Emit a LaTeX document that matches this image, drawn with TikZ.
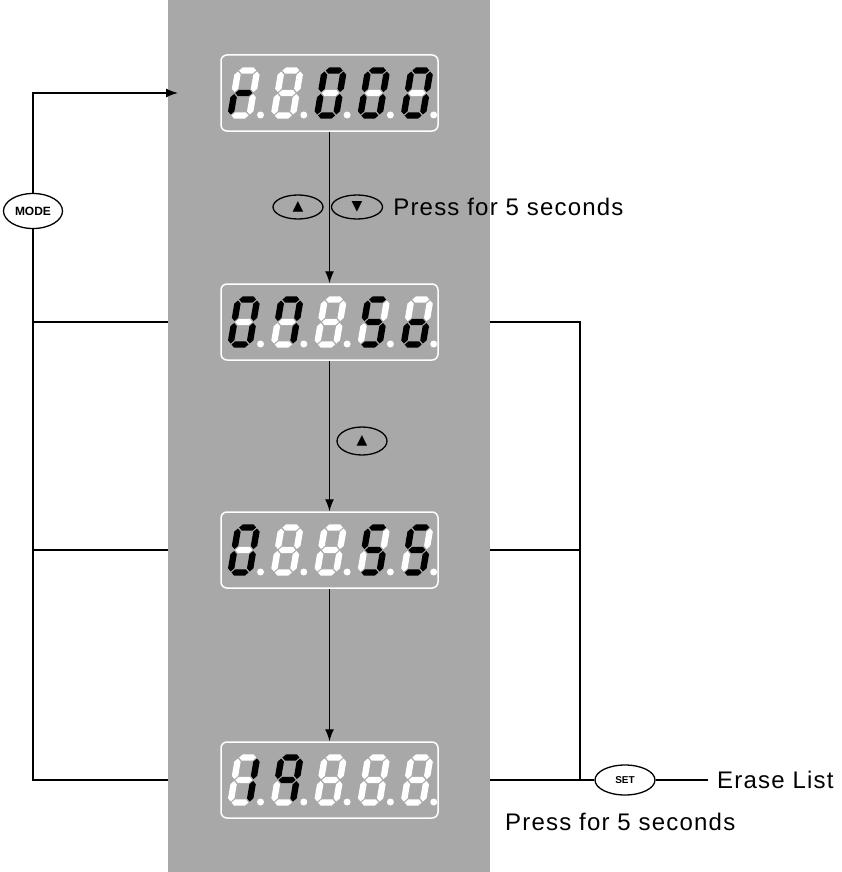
\documentclass[tikz,border=0pt]{standalone}
\usepackage{fontspec}
\setmainfont{Liberation Sans}
\newfontfamily\symfont{DejaVu Sans}
\newfontfamily\labelfont[LetterSpace=5]{Liberation Sans}
\usetikzlibrary{arrows.meta,shapes.geometric,positioning,calc}
\definecolor{panelgray}{RGB}{168,168,168}
\tikzset{display/.style={draw=white,line width=1.5pt,rounded corners=6pt,
  minimum width=217pt,minimum height=76pt,inner sep=0pt},
  button/.style={ellipse,draw,line width=1.3pt,inner sep=0pt},
  seg1/.style={fill=black}, seg0/.style={fill=white},
  flow/.style={line width=1.3pt,-{Latex[length=12pt,width=9pt]}},
  wire/.style={line width=1.3pt},
  note/.style={font=\labelfont\fontsize{24}{28}\selectfont,inner sep=0pt}}
% one segment: horizontal (x0,x1,y) and vertical (x,y0,y1)
\newcommand\hseg[3]{({#1+1},{#3}) -- ({#1+4.2},{#3+3.2}) -- ({#2-4.2},{#3+3.2}) -- ({#2-1},{#3}) -- ({#2-4.2},{#3-3.2}) -- ({#1+4.2},{#3-3.2}) -- cycle}
\newcommand\vseg[3]{({#1},{#2+1}) -- ({#1+3.2},{#2+4.2}) -- ({#1+3.2},{#3-4.2}) -- ({#1},{#3-1}) -- ({#1-3.2},{#3-4.2}) -- ({#1-3.2},{#2+4.2}) -- cycle}
% flags a b c d e f g, then position
\def\drawdigit#1#2#3#4#5#6#7#8{%
  \begin{scope}[shift={#8},yscale=-1,xslant=-0.17]
    \foreach \f/\y in {#1/45,#7/22.5,#4/0} \fill[seg\f] \hseg{0}{19}{\y};
    \foreach \f/\x/\y in {#6/0/22.5,#2/19/22.5,#5/0/0,#3/19/0} \fill[seg\f] \vseg{\x}{\y}{\y+22.5};
  \end{scope}}
\def\segdigit#1#2{\edef\segflags{#2}\expandafter\drawdigit\segflags{#1}}

\begin{document}
\begin{tikzpicture}[x=1pt,y=-1pt]
    \useasboundingbox (0,0) rectangle (841,872);
    \node[fill=panelgray,minimum width=322pt,minimum height=872pt,inner sep=0pt] (panel) at (329,436) {};

    % Displays
    \node[display] (d1) at (329.5,93) {};
    \node[display] (d2) at (329.5,322) {};
    \node[display] (d3) at (329.5,550) {};
    \node[display] (d4) at (329.5,780) {};
    \foreach \d/\digits in {d1/{0000101,0000000,1111110,1111110,1111110},
        d2/{1111110,1110010,0000000,1011011,0011101},
        d3/{1111110,0000000,0000000,1011011,1011011},
        d4/{0110000,1110011,0000000,0000000,0000000}}
      \foreach \s [count=\i from 0] in \digits {
        \segdigit{($(\d)+({-99+43.3*\i},22.5)$)}{\s}
        \fill[white] ($(\d)+({-99+43.3*\i+30},22)$) circle (3.5pt);
      }

    % Flow between displays
    \draw[flow] (d1) -- (d2);
    \draw[flow] (d2) -- (d3);
    \draw[flow] (d3) -- (d4);

    % Buttons
    \node[button,minimum width=50pt,minimum height=24pt] (up1) at (298,207) {\symfont\fontsize{14}{14}\selectfont ▲};
    \node[button,minimum width=51pt,minimum height=24pt] (dn1) at (357,207) {\symfont\fontsize{14}{14}\selectfont ▼};
    \node[note,right=10pt of dn1] (hold1) {Press for 5 seconds};
    \node[button,minimum width=50pt,minimum height=28pt] (up2) at (362,441) {\symfont\fontsize{14}{14}\selectfont ▲};
    \node[button,minimum width=59pt,minimum height=35pt,font=\bfseries\fontsize{12}{12}\selectfont] (mode) at (33,211) {MODE};
    \node[button,minimum width=60pt,minimum height=30pt,font=\bfseries\fontsize{10}{10}\selectfont] (set) at (625,780) {SET};

    % MODE loop
    \coordinate (mtip) at (178,93);
    \draw[wire,-{Latex[length=12pt,width=9pt]}] (mode.north) |- (mtip);
    \draw[wire] (mode.south) -- (mode |- d4) -- (d4 -| panel.west);
    \draw[wire] (mode |- d2) -- (d2 -| panel.west);
    \draw[wire] (mode |- d3) -- (d3 -| panel.west);

    % SET branch
    \coordinate (rj) at (580,780);
    \draw[wire] (d2 -| panel.east) -- (d2 -| rj) -- (rj);
    \draw[wire] (d3 -| panel.east) -- (d3 -| rj);
    \draw[wire] (d4 -| panel.east) -- (set.west);
    \node[note,anchor=west] (erase) at (717,780) {Erase List};
    \coordinate (se) at (708,780);
    \draw[wire] (set.east) -- (se);
    \node[note,anchor=west] (hold2) at (505,822) {Press for 5 seconds};
\end{tikzpicture}
\end{document}
